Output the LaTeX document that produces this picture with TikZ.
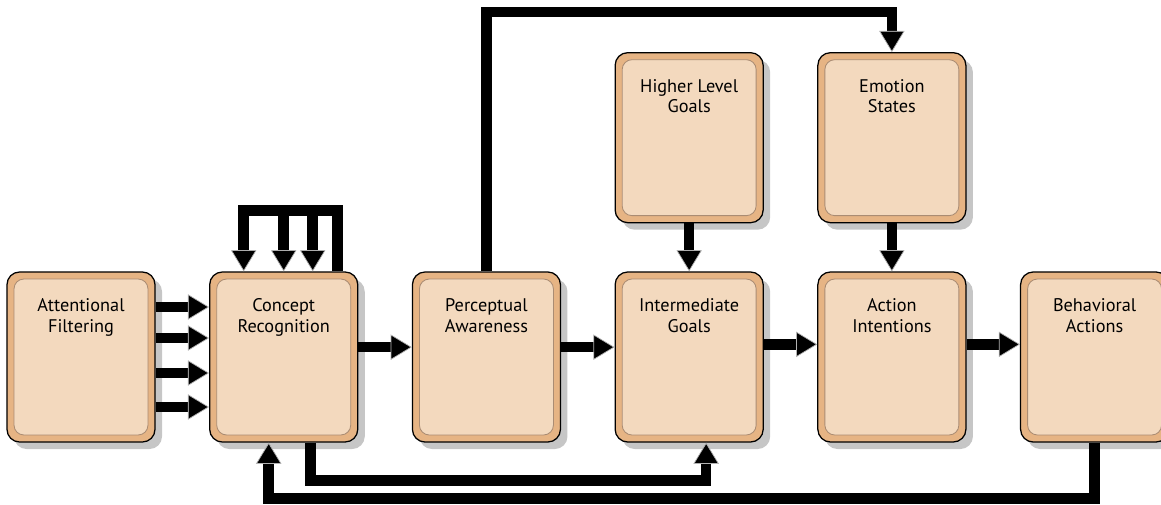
\documentclass[tikz,border=0pt]{standalone}
\usepackage{fontspec}
\setmainfont{PT Sans}
\usetikzlibrary{arrows.meta, positioning, calc, shadows}
\definecolor{boxouter}{RGB}{230,180,132}
\definecolor{boxinner}{RGB}{243,217,190}
\definecolor{boxline}{RGB}{170,140,115}

\begin{document}
\begin{tikzpicture}[x=0.025cm, y=-0.025cm,
  node distance=1.2cm and 1.335cm,
  stage/.style={draw, line width=0.9pt, fill=boxouter, rounded corners=9pt, minimum width=3.7cm, minimum height=4.25cm,
    drop shadow={shadow xshift=5pt, shadow yshift=-5pt, opacity=0.45},
    path picture={\draw[boxline, fill=boxinner, line width=0.6pt, rounded corners=7pt]
      ([shift={(5pt,-5pt)}]path picture bounding box.north west) rectangle ([shift={(-5pt,5pt)}]path picture bounding box.south east);}},
  title/.style={anchor=north, yshift=-16pt, align=center, font=\fontsize{13}{14.5}\selectfont},
  flow/.style={line width=7.5pt, line join=miter, -{Triangle[length=15pt, width=18pt, fill=black, color=gray!60, line width=0.5pt]}}
]
\useasboundingbox (0,0) rectangle (1161,505);

% Main row
\node[stage, label={[title]north:{Attentional\\Filtering}}] (attn) at (81,357) {};
\node[stage, right=of attn, label={[title]north:{Concept\\Recognition}}] (concept) {};
\node[stage, right=of concept, label={[title]north:{Perceptual\\Awareness}}] (percept) {};
\node[stage, right=of percept, label={[title]north:{Intermediate\\Goals}}] (inter) {};
\node[stage, right=of inter, label={[title]north:{Action\\Intentions}}] (action) {};
\node[stage, right=of action, label={[title]north:{Behavioral\\Actions}}] (behav) {};

% Top row
\node[stage, above=of inter, label={[title]north:{Higher Level\\Goals}}] (higher) {};
\node[stage, above=of action, label={[title]north:{Emotion\\States}}] (emotion) {};

% Inputs
\foreach \dy in {-50,-19,16,50}
  \draw[flow] ($(attn.east)+(0,\dy)$) -- ($(concept.west)+(0,\dy)$);

% Self loop on concept recognition
\draw[flow] ($(concept.north)+(54,0)$) |- ($(concept.north)+(-40,-61)$) -- ($(concept.north)+(-40,0)$);
\foreach \dx in {0,29}
  \draw[flow] ($(concept.north)+(\dx,-61)$) -- ($(concept.north)+(\dx,0)$);

% Forward chain
\draw[flow] ([yshift=7pt]concept.east) -- ([yshift=7pt]percept.west);
\draw[flow] ([yshift=7pt]percept.east) -- ([yshift=7pt]inter.west);
\draw[flow] ([yshift=9pt]inter.east) -- ([yshift=9pt]action.west);
\draw[flow] ([yshift=9pt]action.east) -- ([yshift=9pt]behav.west);
\draw[flow] (higher) -- (inter);
\draw[flow] (emotion) -- (action);

% Feedback paths
\coordinate (topline) at (0,12);
\draw[flow] (percept.north) |- (topline -| emotion.north) -- (emotion.north);
\draw[flow] ($(concept.south)+(27,0)$) -- ++(0,38) -| ($(inter.south)+(17,0)$);
\draw[flow] (behav.south) -- ++(0,56) -| ($(concept.south)+(-15,0)$);

\end{tikzpicture}
\end{document}
